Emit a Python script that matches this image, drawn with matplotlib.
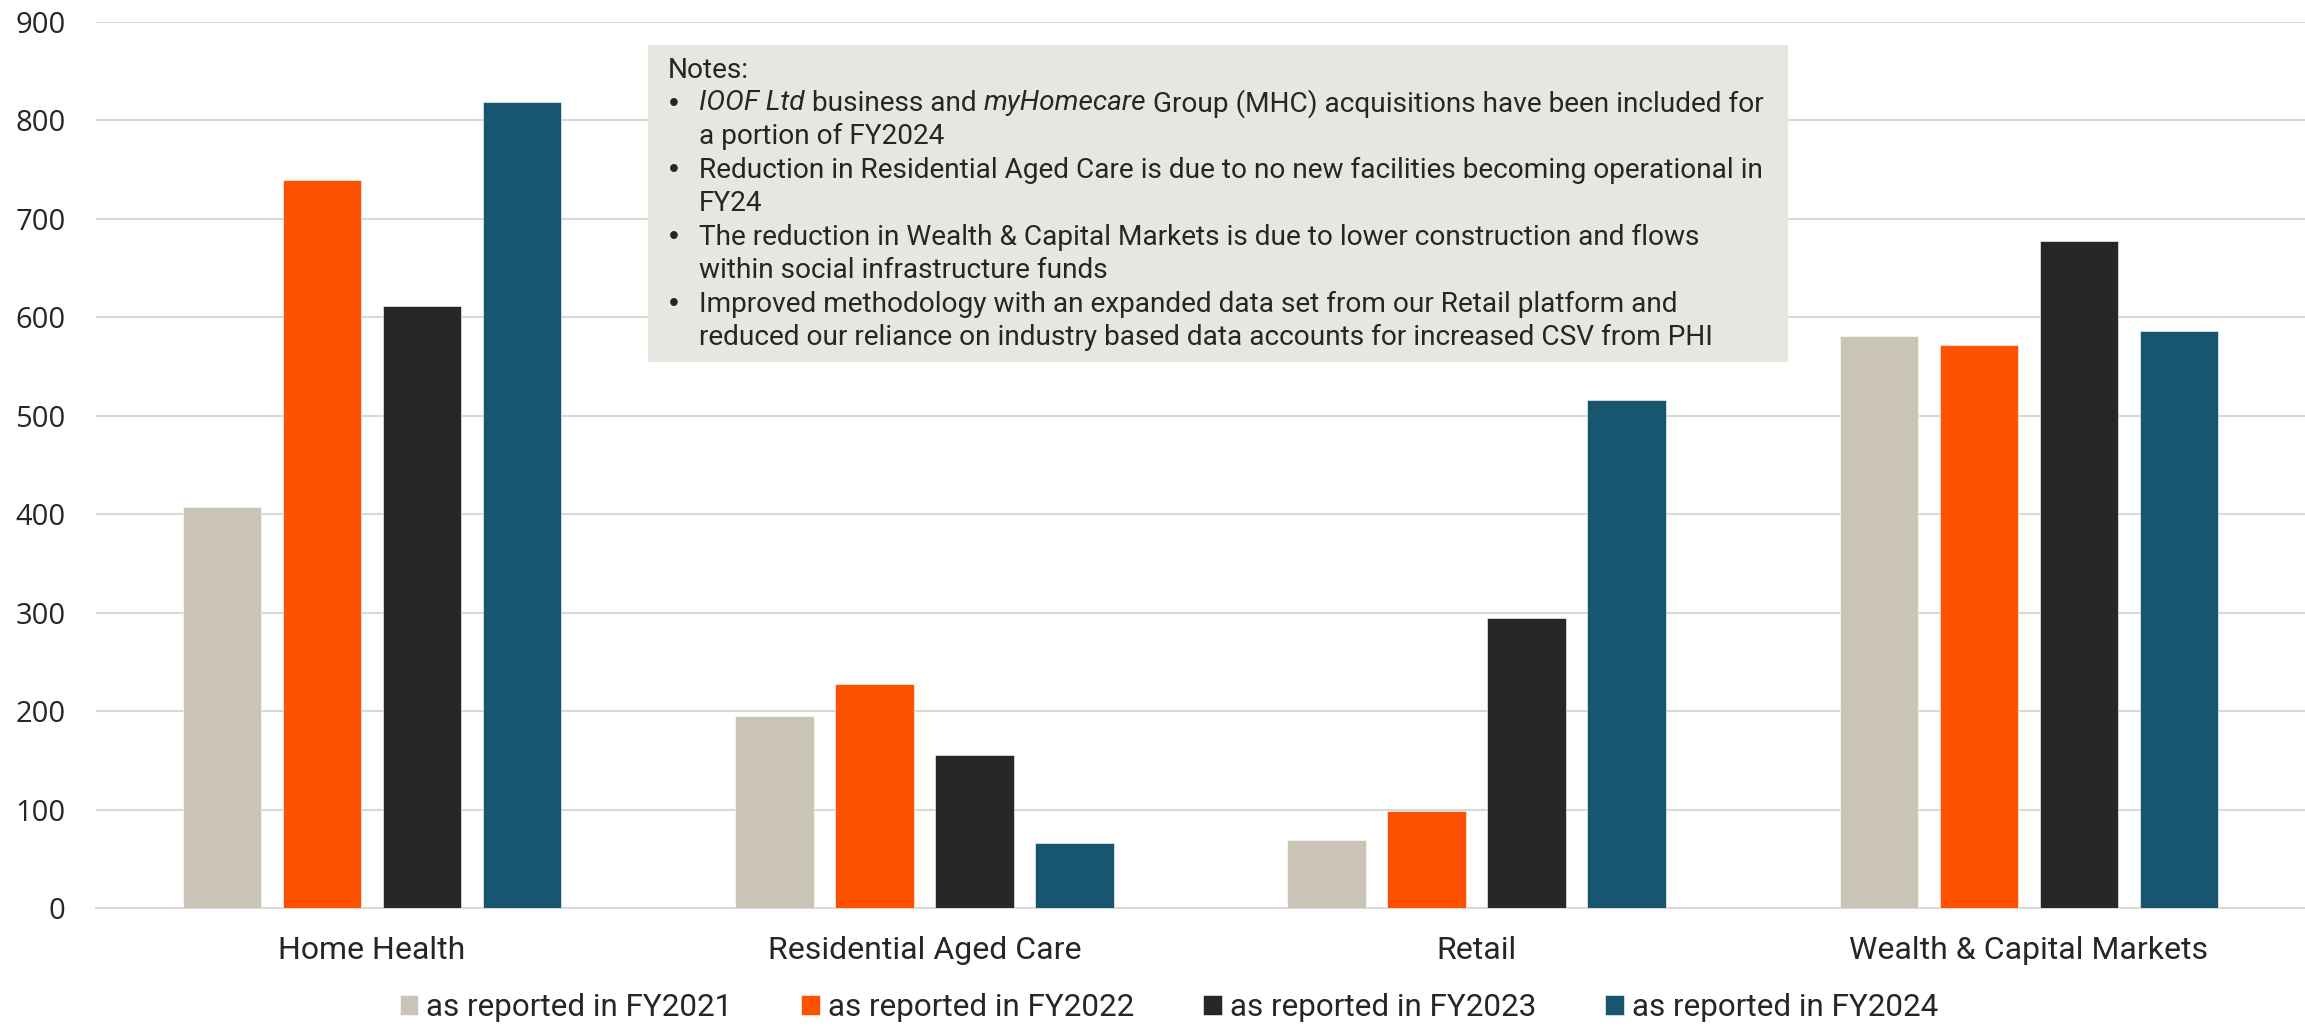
import matplotlib
matplotlib.use("Agg")
import matplotlib.pyplot as plt
import numpy as np
from matplotlib.patches import Rectangle

categories = ["Home Health", "Residential Aged Care", "Retail", "Wealth & Capital Markets"]
series_names = ["as reported in FY2021", "as reported in FY2022",
                "as reported in FY2023", "as reported in FY2024"]
fy2021 = [407, 195, 69, 581]
fy2022 = [740, 228, 99, 572]
fy2023 = [612, 155, 295, 678]
fy2024 = [819, 66, 516, 586]
series_values = [fy2021, fy2022, fy2023, fy2024]
colors = ["#CAC4B7", "#FE5200", "#272727", "#17566E"]
yticks = [0, 100, 200, 300, 400, 500, 600, 700, 800, 900]

notes_title = "Notes:"
notes_lines = [
    [("IOOF Ltd", True), (" business and ", False), ("myHomecare", True),
     (" Group (MHC) acquisitions have been included for", False)],
    [("a portion of FY2024", False)],
    [("Reduction in Residential Aged Care is due to no new facilities becoming operational in", False)],
    [("FY24", False)],
    [("The reduction in Wealth & Capital Markets is due to lower construction and flows", False)],
    [("within social infrastructure funds", False)],
    [("Improved methodology with an expanded data set from our Retail platform and", False)],
    [("reduced our reliance on industry based data accounts for increased CSV from PHI", False)],
]
bullet_line = [True, False, True, False, True, False, True, False]

plt.rcParams['font.family'] = ['Roboto', 'DejaVu Sans']
TXT = "#262626"
W, H = 2305, 1027
fig = plt.figure(figsize=(W / 100, H / 100), dpi=100)
ax = fig.add_axes([96 / W, 1 - 908 / H, (W - 96) / W, (908 - 22) / H])

x = np.arange(len(categories))
pitch = 0.1811
width = 0.1425
for i, (vals, c, name) in enumerate(zip(series_values, colors, series_names)):
    ax.bar(x + (i - 1.5) * pitch, vals, width, color=c, label=name, zorder=3,
           edgecolor="white", linewidth=0.4)

ax.set_xlim(-0.5, 3.5)
ax.set_ylim(0, 900)
ax.set_yticks(yticks)
ax.set_yticklabels([str(v) for v in yticks], fontsize=21, color=TXT, family=['Open Sans', 'DejaVu Sans'])
ax.set_xticks(x)
ax.set_xticklabels(categories, fontsize=23, color=TXT)
ax.tick_params(axis='y', length=0, pad=22)
ax.tick_params(axis='x', length=0, pad=20)
ax.grid(axis='y', color="#D9D9D9", linewidth=1.5, zorder=0)
for s in ["top", "right", "left"]:
    ax.spines[s].set_visible(False)
ax.spines["bottom"].set_color("#D9D9D9")
ax.spines["bottom"].set_linewidth(1.5)

# legend
handles, labels = ax.get_legend_handles_labels()
fig.legend(handles, labels, loc="center", bbox_to_anchor=(1169 / W, 1 - 1008 / H),
           ncol=4, frameon=False, fontsize=22.6, handlelength=0.6, handleheight=0.6,
           handletextpad=0.25, columnspacing=2.2, labelcolor=TXT, borderaxespad=0)

# notes box
fig.patches.append(Rectangle((648 / W, 1 - 362 / H), (1788 - 648) / W, (362 - 45) / H,
                             transform=fig.transFigure, facecolor="#E8E6E1",
                             edgecolor="none", zorder=5))
NFS = 20.2
fig.text(668 / W, 1 - 70 / H, notes_title, fontsize=NFS, color=TXT, va="center", zorder=6)
renderer = fig.canvas.get_renderer()
y0 = 103.5
for k, (segs, bl) in enumerate(zip(notes_lines, bullet_line)):
    yy = 1 - (y0 + k * 33.45) / H
    if bl:
        fig.text(669 / W, yy, "•", fontsize=NFS, color=TXT, va="center", zorder=6,
                 family=['Liberation Sans', 'DejaVu Sans'])
    xp = 699.0
    for seg, it in segs:
        t = fig.text(xp / W, yy, seg, fontsize=NFS, color=TXT, va="center",
                     style="italic" if it else "normal", zorder=6)
        wbox = t.get_window_extent(renderer).width
        lead = len(seg) - len(seg.lstrip(" "))
        trail = len(seg) - len(seg.rstrip(" "))
        if lead or trail:
            tmp = fig.text(0, 0, "a a", fontsize=NFS)
            tmp2 = fig.text(0, 0, "aa", fontsize=NFS)
            sp = tmp.get_window_extent(renderer).width - tmp2.get_window_extent(renderer).width
            tmp.remove(); tmp2.remove()
            stripped = fig.text(0, 0, seg.strip(" "), fontsize=NFS,
                                style="italic" if it else "normal")
            wbox = stripped.get_window_extent(renderer).width + sp * (lead + trail)
            stripped.remove()
            if lead:
                t.set_text(seg.lstrip(" "))
                t.set_x((xp + sp * lead) / W)
        xp += wbox

fig.savefig("out.png", dpi=100, facecolor="white")
